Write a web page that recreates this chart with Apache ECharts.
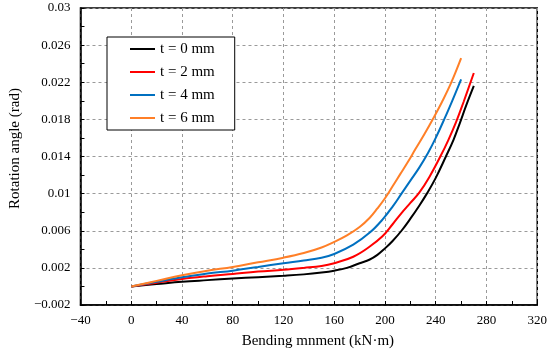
<!DOCTYPE html>
<html>
<head>
<meta charset="utf-8">
<script src="https://cdn.jsdelivr.net/npm/echarts@6/dist/echarts.min.js"></script>
<style>html,body{margin:0;padding:0;background:#fff}#c{width:550px;height:354px}</style>
</head>
<body>
<div id="c"></div>
<script>
const seriesNames = ['t = 0 mm', 't = 2 mm', 't = 4 mm', 't = 6 mm'];
const seriesColors = ['#000000', '#FF0000', '#0070C0', '#FF7F27'];

const mT0 = [0, 20, 40, 60, 80, 100, 120, 136, 150, 160, 170, 180, 188, 194, 200, 206, 213, 220, 227, 233, 240, 248, 254, 259, 264, 270];
const rT0 = [0, 0.00025, 0.0005, 0.00068, 0.00085, 0.001, 0.00115, 0.0013, 0.0015, 0.0017, 0.002, 0.0025, 0.0029, 0.0034, 0.0041, 0.0049, 0.006, 0.0073, 0.0087, 0.0100, 0.0117, 0.0140, 0.0158, 0.0176, 0.0195, 0.0216];

const mT2 = [0, 20, 40, 60, 80, 100, 120, 136, 150, 160, 175, 188, 198, 206, 213, 220, 227, 235, 244, 250, 256, 262, 270];
const rT2 = [0, 0.0004, 0.0008, 0.0011, 0.00135, 0.0016, 0.0018, 0.002, 0.0022, 0.0025, 0.0032, 0.0043, 0.0054, 0.0067, 0.0079, 0.0090, 0.0101, 0.0118, 0.0141, 0.0158, 0.0177, 0.0199, 0.0230];

const mT4 = [0, 20, 40, 60, 80, 100, 120, 136, 150, 160, 175, 188, 198, 206, 213, 220, 227, 234, 240, 247, 253, 260];
const rT4 = [0, 0.0005, 0.00098, 0.0014, 0.0017, 0.0021, 0.0025, 0.0028, 0.0031, 0.0035, 0.0045, 0.0058, 0.0072, 0.0086, 0.0100, 0.0114, 0.0128, 0.0144, 0.0160, 0.0181, 0.0200, 0.0223];

const mT6 = [0, 20, 40, 60, 80, 100, 120, 136, 150, 160, 170, 180, 188, 194, 200, 206, 212, 218, 224, 231, 238, 245, 252, 260];
const rT6 = [0, 0.0006, 0.0012, 0.0017, 0.0021, 0.0026, 0.0031, 0.0036, 0.0042, 0.0048, 0.0055, 0.0064, 0.0074, 0.0084, 0.0095, 0.0108, 0.0121, 0.0134, 0.0148, 0.0164, 0.0181, 0.0199, 0.0219, 0.0246];

const xs = [mT0, mT2, mT4, mT6];
const ys = [rT0, rT2, rT4, rT6];

const font = 'Liberation Serif';
const fmt = v => {
  const s = String(parseFloat(Number(v).toFixed(4)));
  return s.replace('-', '\u2212');
};

const chart = echarts.init(document.getElementById('c'), null, {renderer: 'canvas'});
chart.setOption({
  animation: false,
  backgroundColor: '#fff',
  textStyle: {fontFamily: font},
  grid: {left: 70, right: 11, top: 8, bottom: 49, show: true, borderColor: '#000', borderWidth: 1.5, containLabel: false},
  legend: {
    orient: 'vertical', left: 107, top: 37,
    backgroundColor: '#fff', borderColor: '#000', borderWidth: 1,
    padding: [4, 20, 4, 23],
    icon: 'rect',
    itemWidth: 25, itemHeight: 2, itemGap: 7,
    textStyle: {fontFamily: font, fontSize: 15, color: '#000', lineHeight: 16},
    data: seriesNames
  },
  xAxis: {
    type: 'value', min: -40, max: 320, interval: 40,
    name: 'Bending mnment (kN\u00b7m)', nameLocation: 'middle', nameGap: 29,
    nameTextStyle: {fontFamily: font, fontSize: 15, color: '#000', padding: [0, 0, 0, 18]},
    axisLine: {show: true, onZero: false, lineStyle: {color: '#000', width: 1.5}},
    axisTick: {show: true, inside: true, length: 4, lineStyle: {color: '#000'}},
    minorTick: {show: true, splitNumber: 2, length: 4, lineStyle: {color: '#000'}},
    axisLabel: {fontFamily: font, fontSize: 13, color: '#000', margin: 9, formatter: fmt},
    splitLine: {show: true, lineStyle: {color: '#9a9a9a', type: [3, 3], width: 1}}
  },
  yAxis: {
    type: 'value', min: -0.002, max: 0.03, interval: 0.004,
    name: 'Rotation angle (rad)', nameLocation: 'middle', nameGap: 52,
    nameTextStyle: {fontFamily: font, fontSize: 15, color: '#000', padding: [0, 0, 0, 16]},
    axisLine: {show: true, onZero: false, lineStyle: {color: '#000', width: 1.5}},
    axisTick: {show: true, inside: true, length: 4, lineStyle: {color: '#000'}},
    minorTick: {show: true, splitNumber: 2, length: 4, lineStyle: {color: '#000'}},
    axisLabel: {fontFamily: font, fontSize: 13, color: '#000', margin: 10, formatter: fmt},
    splitLine: {show: true, lineStyle: {color: '#9a9a9a', type: [3, 3], width: 1}}
  },
  series: seriesNames.map((n, i) => ({
    name: n, type: 'line', smooth: 0.4, symbol: 'none', showSymbol: false,
    color: seriesColors[i],
    itemStyle: {color: seriesColors[i]},
    lineStyle: {color: seriesColors[i], width: 2},
    data: xs[i].map((x, j) => [x, ys[i][j]])
  }))
});
</script>
</body>
</html>
